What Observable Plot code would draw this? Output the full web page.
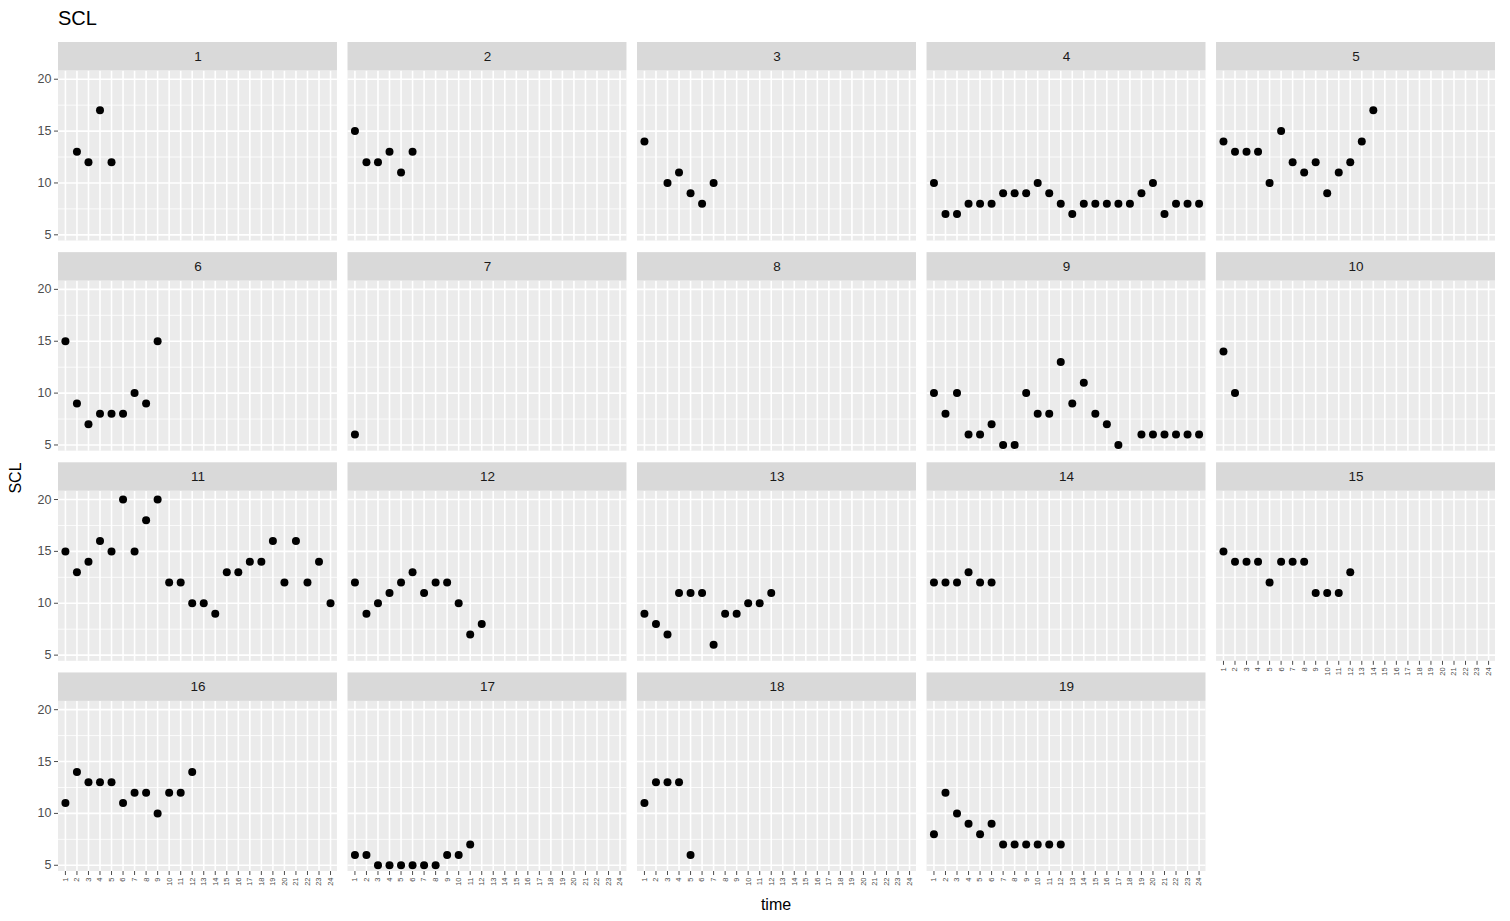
<!DOCTYPE html>
<html>
<head>
<meta charset="utf-8">
<script src="https://cdn.jsdelivr.net/npm/d3@7"></script>
<script src="https://cdn.jsdelivr.net/npm/@observablehq/plot@0.6"></script>
<style>
  body { margin: 0; background: #fff; font-family: "Liberation Sans", Arial, sans-serif; }
  #wrap { position: relative; width: 1510px; height: 921px; overflow: hidden; }
  #chart { position: absolute; left: 0; top: 0; }
  #title { position: absolute; left: 58px; top: 7px; font-size: 20px; color: #000; }
  #ytitle { position: absolute; left: 16px; top: 478px; transform: translate(-50%, -50%) rotate(-90deg); font-size: 16px; color: #000; white-space: nowrap; }
  #xtitle { position: absolute; left: 776px; top: 905px; transform: translate(-50%, -50%); font-size: 16px; color: #000; }
</style>
</head>
<body>
<div id="wrap">
  <div id="chart"></div>
  <div id="title">SCL</div>
  <div id="ytitle">SCL</div>
  <div id="xtitle">time</div>
</div>
<script>
// Facet panel labels
const panels = ["1","2","3","4","5","6","7","8","9","10","11","12","13","14","15","16","17","18","19"];
// x tick labels (time, discrete)
const times = [1,2,3,4,5,6,7,8,9,10,11,12,13,14,15,16,17,18,19,20,21,22,23,24];
// y tick labels
const yTicks = [5, 10, 15, 20];
const yMinor = [7.5, 12.5, 17.5];

// SCL values per panel, index = time - 1 (null = no observation)
const scl1  = [null, 13, 12, 17, 12];
const scl2  = [15, 12, 12, 13, 11, 13];
const scl3  = [14, null, 10, 11, 9, 8, 10];
const scl4  = [10, 7, 7, 8, 8, 8, 9, 9, 9, 10, 9, 8, 7, 8, 8, 8, 8, 8, 9, 10, 7, 8, 8, 8];
const scl5  = [14, 13, 13, 13, 10, 15, 12, 11, 12, 9, 11, 12, 14, 17];
const scl6  = [15, 9, 7, 8, 8, 8, 10, 9, 15];
const scl7  = [6];
const scl8  = [];
const scl9  = [10, 8, 10, 6, 6, 7, 5, 5, 10, 8, 8, 13, 9, 11, 8, 7, 5, null, 6, 6, 6, 6, 6, 6];
const scl10 = [14, 10];
const scl11 = [15, 13, 14, 16, 15, 20, 15, 18, 20, 12, 12, 10, 10, 9, 13, 13, 14, 14, 16, 12, 16, 12, 14, 10];
const scl12 = [12, 9, 10, 11, 12, 13, 11, 12, 12, 10, 7, 8];
const scl13 = [9, 8, 7, 11, 11, 11, 6, 9, 9, 10, 10, 11];
const scl14 = [12, 12, 12, 13, 12, 12];
const scl15 = [15, 14, 14, 14, 12, 14, 14, 14, 11, 11, 11, 13];
const scl16 = [11, 14, 13, 13, 13, 11, 12, 12, 10, 12, 12, 14];
const scl17 = [6, 6, 5, 5, 5, 5, 5, 5, 6, 6, 7];
const scl18 = [11, 13, 13, 13, 6];
const scl19 = [8, 12, 10, 9, 8, 9, 7, 7, 7, 7, 7, 7];

const series = [scl1, scl2, scl3, scl4, scl5, scl6, scl7, scl8, scl9, scl10,
                scl11, scl12, scl13, scl14, scl15, scl16, scl17, scl18, scl19];

const NCOL = 5;
const panelInfo = panels.map((p, i) => ({panel: p, col: i % NCOL, row: Math.floor(i / NCOL)}));
const points = [];
series.forEach((vals, i) => vals.forEach((v, j) => {
  if (v != null) points.push({...panelInfo[i], time: times[j], scl: v});
}));
const vgrid = panelInfo.flatMap(p => times.map(t => ({...p, time: t})));
const hMajor = panelInfo.flatMap(p => yTicks.map(v => ({...p, v})));
const hMinor = panelInfo.flatMap(p => yMinor.map(v => ({...p, v})));

const yLo = 4.4, yHi = 20.8, yStrip = 23.54;

const chart = Plot.plot({
  width: 1510,
  height: 921,
  marginLeft: 58,
  marginRight: 15,
  marginTop: 42,
  marginBottom: 50,
  style: {fontFamily: "'Liberation Sans', Arial, sans-serif", background: "transparent"},
  fx: {domain: [0, 1, 2, 3, 4], paddingInner: 0.0365, paddingOuter: 0, round: false, axis: null},
  fy: {domain: [0, 1, 2, 3], paddingInner: 0.0552, paddingOuter: 0, round: false, axis: null},
  x: {type: "point", domain: times, padding: 0.6, round: false, axis: null},
  y: {domain: [yLo, yStrip], axis: null},
  marks: [
    Plot.rect(panelInfo, {fx: "col", fy: "row", y1: yLo, y2: yHi, fill: "#EBEBEB"}),
    Plot.ruleY(hMinor, {fx: "col", fy: "row", y: "v", stroke: "white", strokeWidth: 0.8}),
    Plot.ruleY(hMajor, {fx: "col", fy: "row", y: "v", stroke: "white", strokeWidth: 1.6}),
    Plot.ruleX(vgrid, {fx: "col", fy: "row", x: "time", y1: yLo, y2: yHi, stroke: "white", strokeWidth: 1.6}),
    Plot.dot(points, {fx: "col", fy: "row", x: "time", y: "scl", r: 4, fill: "black", stroke: null}),
    Plot.rect(panelInfo, {fx: "col", fy: "row", y1: yHi, y2: yStrip, fill: "#D9D9D9"}),
    Plot.text(panelInfo, {fx: "col", fy: "row", y: (yHi + yStrip) / 2, text: "panel", fontSize: 13.5, fill: "#1A1A1A"}),
    Plot.axisY(yTicks, {anchor: "left", facetAnchor: "left", tickSize: 4, tickPadding: 3, fontSize: 12.5, color: "#4D4D4D", label: null}),
    Plot.axisX(times, {anchor: "bottom", facetAnchor: "bottom-empty", tickRotate: -90, tickSize: 4, tickPadding: 2, fontSize: 7.5, color: "#4D4D4D", label: null})
  ]
});
document.getElementById("chart").appendChild(chart);
</script>
</body>
</html>
